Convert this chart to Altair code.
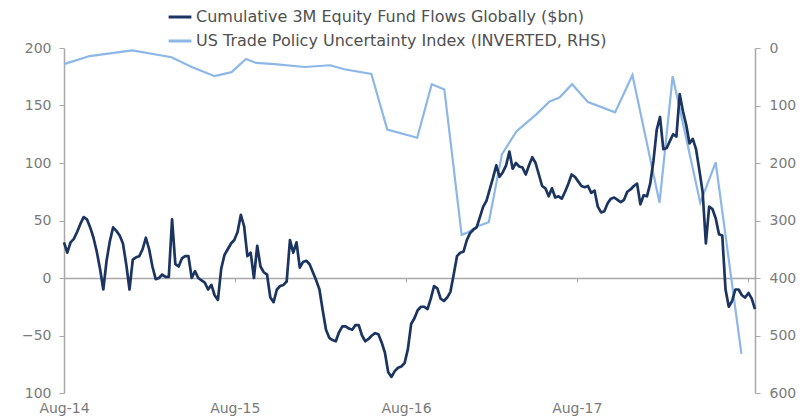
import altair as alt
import pandas as pd

# ---------------- data ----------------
series_names = [
    "Cumulative 3M Equity Fund Flows Globally ($bn)",
    "US Trade Policy Uncertainty Index (INVERTED, RHS)",
]

# weekly cumulative 3M equity fund flows ($bn), weeks starting Aug-2014
flow_start = "2014-08-01"
flow_values = [
    31, 22, 31, 34, 40, 47, 53, 51, 44, 35, 23, 8, -10, 15, 32, 44, 41, 37, 30, 12,
    -10, 16, 18, 19, 25, 35, 25, 10, -1, 0, 3, 1, 1, 51, 12, 10, 17, 19, 19, 0,
    6, 0, -2, -4, -10, -6, -15, -19, 8, 20, 25, 30, 33, 40, 55, 45, 19, 22, 0, 28,
    10, 5, 3, -17, -21, -10, -7, -6, -3, 33, 22, 31, 9, 14, 15, 12, 5, -2, -10, -28,
    -45, -52, -54, -55, -47, -42, -42, -44, -45, -41, -41, -50, -55, -53, -50, -48, -49, -56, -65, -82,
    -86, -81, -78, -77, -74, -62, -40, -35, -28, -25, -25, -27, -18, -7, -9, -18, -20, -17, -12, 3,
    19, 22, 23, 33, 39, 42, 44, 53, 62, 67, 77, 87, 98, 88, 92, 98, 110, 95, 100, 97,
    96, 90, 98, 105, 100, 90, 80, 78, 71, 78, 70, 71, 69, 75, 82, 90, 88, 84, 80, 79,
    80, 74, 76, 62, 57, 58, 65, 69, 70, 68, 66, 68, 75, 77, 80, 82, 64, 72, 71, 82,
    102, 129, 140, 112, 113, 119, 125, 123, 160, 145, 133, 117, 121, 112, 94, 75, 30, 62, 60, 52,
    38, 37, -10, -25, -20, -10, -10, -15, -17, -13, -18, -27,
]

# US trade policy uncertainty index (plotted inverted on the right axis)
tpu_dates = [
    "2014-08-01", "2014-09-25", "2014-12-25", "2015-03-19", "2015-05-01", "2015-06-19",
    "2015-07-25", "2015-08-25", "2015-09-16", "2015-10-25", "2015-12-28", "2016-02-21",
    "2016-03-22", "2016-05-19", "2016-06-22", "2016-08-25", "2016-09-25", "2016-10-22",
    "2016-11-28", "2016-12-13", "2017-01-01", "2017-01-25", "2017-02-22", "2017-03-25",
    "2017-05-07", "2017-06-04", "2017-06-25", "2017-07-22", "2017-08-25", "2017-10-22",
    "2017-11-28", "2018-01-25", "2018-02-22", "2018-04-22", "2018-05-25", "2018-07-19",
]
tpu_values = [
    28, 14, 4, 16, 33, 49,
    42, 19, 26, 28, 33, 30,
    37, 45, 142, 156, 63, 72,
    325, 320, 310, 303, 185, 145,
    115, 93, 86, 63, 94, 112,
    47, 269, 49, 269, 199, 532,
]

left_ticks = [-100, -50, 0, 50, 100, 150, 200]
right_ticks = [0, 100, 200, 300, 400, 500, 600]
x_tick_years = [2014, 2015, 2016, 2017, 2018]

# ---------------- frames ----------------
flows = pd.DataFrame({
    "date": pd.date_range(flow_start, periods=len(flow_values), freq="7D"),
    "value": flow_values,
    "series": series_names[0],
})
tpu = pd.DataFrame({
    "date": pd.to_datetime(tpu_dates),
    "value": tpu_values,
    "series": series_names[1],
})

DARK = "#1b3560"
LIGHT = "#8cb7e6"
AXIS_GREY = "#a9a9a9"
LABEL_GREY = "#7a7a7a"
FONT = "DejaVu Sans"

W, H = 691, 345
zero_offset = H * 100 / 300  # distance of y=0 from the bottom

x_enc = alt.X(
    "date:T",
    scale=alt.Scale(domain=[alt.DateTime(year=2014, month=8, date=1),
                            alt.DateTime(year=2018, month=8, date=17)]),
    axis=alt.Axis(
        values=[alt.DateTime(year=y, month=8, date=1) for y in x_tick_years],
        format="%b-%y",
        labelExpr="year(datum.value) >= 2018 ? '' : datum.label",
        offset=-zero_offset,
        labelPadding=zero_offset + 4,
        labelFlush=False,
        labelOverlap=False,
        tickSize=4,
        tickColor=AXIS_GREY,
        domainColor=AXIS_GREY,
        domainWidth=1.5,
        labelColor=LABEL_GREY,
        labelFont=FONT,
        labelFontSize=14,
        labelBaseline="top",
        grid=False,
        title=None,
    ),
)

color_enc = alt.Color(
    "series:N",
    scale=alt.Scale(domain=series_names, range=[DARK, LIGHT]),
    legend=alt.Legend(
        title=None,
        orient="none",
        legendX=103,
        legendY=-44,
        direction="vertical",
        symbolType="stroke",
        symbolStrokeWidth=3,
        symbolSize=520,
        labelFont=FONT,
        labelFontSize=16,
        labelColor="#505050",
        labelOffset=3,
        labelLimit=0,
        rowPadding=3,
        padding=0,
    ),
)

flow_line = alt.Chart(flows).mark_line(strokeWidth=2.7, strokeJoin="round").encode(
    x=x_enc,
    y=alt.Y(
        "value:Q",
        scale=alt.Scale(domain=[-100, 200], nice=False, zero=False),
        axis=alt.Axis(
            values=left_ticks,
            labelExpr="datum.value == -100 ? '100' : datum.label",
            orient="left",
            tickSize=5,
            tickColor=AXIS_GREY,
            domainColor=AXIS_GREY,
            domainWidth=1.5,
            labelColor=LABEL_GREY,
            labelFont=FONT,
            labelFontSize=14,
            labelPadding=8,
            grid=False,
            title=None,
        ),
    ),
    color=color_enc,
)

tpu_line = alt.Chart(tpu).mark_line(strokeWidth=2.2).encode(
    x=x_enc,
    y=alt.Y(
        "value:Q",
        scale=alt.Scale(domain=[0, 600], reverse=True, nice=False),
        axis=alt.Axis(
            values=right_ticks,
            orient="right",
            tickSize=5,
            tickColor=AXIS_GREY,
            domainColor=AXIS_GREY,
            domainWidth=1.5,
            labelColor=LABEL_GREY,
            labelFont=FONT,
            labelFontSize=14,
            labelPadding=9,
            grid=False,
            title=None,
        ),
    ),
    color=color_enc,
)

chart = (
    alt.layer(tpu_line, flow_line)
    .resolve_scale(y="independent")
    .properties(
        width=W,
        height=H,
        autosize=alt.AutoSizeParams(type="none"),
        padding={"left": 56, "top": 40, "right": 42, "bottom": 24},
        background="white",
    )
    .configure_view(stroke=None)
)

chart.save("out.html", embed_options={"renderer": "svg", "actions": False})
